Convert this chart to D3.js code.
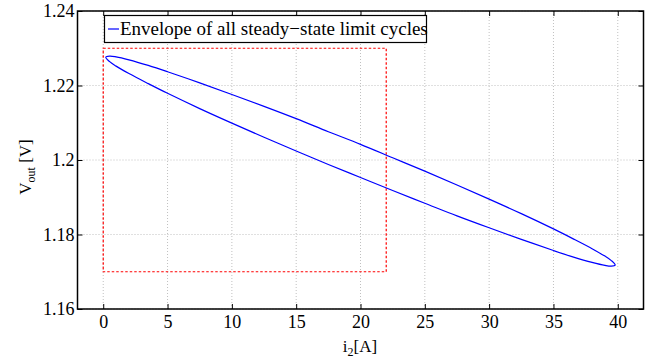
<!DOCTYPE html>
<html><head><meta charset="utf-8">
<script src="https://cdn.jsdelivr.net/npm/d3@7"></script>
<style>
html,body{margin:0;padding:0;background:#fff;}
</style></head>
<body><svg id="c" width="662" height="362"></svg>
<script>
// Data
const xTicks = [0,5,10,15,20,25,30,35,40];
const yTicks = [1.16,1.18,1.2,1.22,1.24];
const yTickLabels = ["1.16","1.18","1.2","1.22","1.24"];
const xDomain = [-2,42];
const yDomain = [1.16,1.24];
// Upper branch of envelope (i2 [A], Vout [V]), left tip -> right tip
const upperI = [0.2,0.5,1,2,3.5,5,7.5,10,12.5,15,17.5,20,22.5,25,27.5,30,32.5,35,36.5,38,39,39.5,39.8];
const upperV = [1.2276,1.2279,1.2277,1.2269,1.2254,1.2237,1.2207,1.2176,1.2144,1.2111,1.2076,1.2042,1.2006,1.1970,1.1933,1.1895,1.1856,1.1815,1.1789,1.1762,1.1742,1.1730,1.1718];
// Lower branch, right tip -> left tip
const lowerI = [39.5,39,38,36.5,35,32.5,30,27.5,25,22.5,20,17.5,15,12.5,10,7.5,5,3.5,2,1,0.5];
const lowerV = [1.1715,1.1717,1.1725,1.1740,1.1757,1.1787,1.1818,1.1850,1.1884,1.1918,1.1953,1.1988,1.2024,1.2061,1.2099,1.2138,1.2179,1.2205,1.2232,1.2252,1.2264];
// Dotted red region
const regionI = [0,22];
const regionV = [1.17,1.23];
const legendLabel = "Envelope of all steady\u2212state limit cycles";

const FONT = "'Liberation Serif','Times New Roman',Times,'DejaVu Serif',serif";
const svg = d3.select("#c");
const L=77.5, R=643.5, T=11, B=309;
const x = d3.scaleLinear().domain(xDomain).range([L,R]);
const y = d3.scaleLinear().domain(yDomain).range([B,T]);

// grid
const g = svg.append("g");
g.selectAll(".gx").data(xTicks).enter().append("line")
 .attr("x1",d=>x(d)).attr("x2",d=>x(d)).attr("y1",T).attr("y2",B)
 .attr("stroke","#c0c0c0").attr("stroke-width",1).attr("stroke-dasharray","1,2");
g.selectAll(".gy").data(yTicks).enter().append("line")
 .attr("y1",d=>y(d)).attr("y2",d=>y(d)).attr("x1",L).attr("x2",R)
 .attr("stroke","#c0c0c0").attr("stroke-width",1).attr("stroke-dasharray","1,2");

// red region
svg.append("rect")
 .attr("x",x(regionI[0])).attr("y",y(regionV[1]))
 .attr("width",x(regionI[1])-x(regionI[0])).attr("height",y(regionV[0])-y(regionV[1]))
 .attr("fill","none").attr("stroke","#ff0000").attr("stroke-width",1.2).attr("stroke-dasharray","2.5,2");

// ellipse
const pts = upperI.map((d,i)=>[d,upperV[i]]).concat(lowerI.map((d,i)=>[d,lowerV[i]]));
svg.append("path").datum(pts)
 .attr("d", d3.line().x(d=>x(d[0])).y(d=>y(d[1])).curve(d3.curveCatmullRomClosed.alpha(0.5)))
 .attr("fill","none").attr("stroke","#0000ff").attr("stroke-width",1.2);

// axes box
const tk=5;
svg.append("rect").attr("x",L).attr("y",T).attr("width",R-L).attr("height",B-T)
 .attr("fill","none").attr("stroke","#000").attr("stroke-width",1.5);
const axB = d3.axisBottom(x).tickValues(xTicks).tickSizeInner(-tk).tickSizeOuter(0).tickPadding(6);
svg.append("g").attr("transform",`translate(0,${B})`).call(axB);
const axT = d3.axisTop(x).tickValues(xTicks).tickSizeInner(-tk).tickSizeOuter(0).tickFormat("");
svg.append("g").attr("transform",`translate(0,${T})`).call(axT);
const axL = d3.axisLeft(y).tickValues(yTicks).tickSizeInner(-tk).tickSizeOuter(0).tickPadding(3)
 .tickFormat((d,i)=>yTickLabels[i]);
svg.append("g").attr("transform",`translate(${L},0)`).call(axL);
const axR = d3.axisRight(y).tickValues(yTicks).tickSizeInner(-tk).tickSizeOuter(0).tickFormat("");
svg.append("g").attr("transform",`translate(${R},0)`).call(axR);
svg.selectAll(".domain").remove();
svg.selectAll(".tick line").attr("stroke","#000").attr("stroke-width",1);
svg.selectAll(".tick text").style("font-family",FONT).style("font-size","18px").attr("fill","#000");

// legend
const lg = svg.append("g");
lg.append("rect").attr("x",104.5).attr("y",15.5).attr("width",322).attr("height",27)
 .attr("fill","#fff").attr("stroke","#000").attr("stroke-width",1.2);
lg.append("line").attr("x1",108).attr("x2",119).attr("y1",29).attr("y2",29)
 .attr("stroke","#0000ff").attr("stroke-width",1.2);
lg.append("text").attr("x",120).attr("y",35).style("font-family",FONT).style("font-size","19px").text(legendLabel);

// axis labels
const xl = svg.append("text").attr("x",360).attr("y",352).attr("text-anchor","middle").style("font-family",FONT).style("font-size","17px");
xl.append("tspan").text("i");
xl.append("tspan").attr("dy",4).style("font-size","12px").text("2");
xl.append("tspan").attr("dy",-4).text("[A]");
const yl = svg.append("text").attr("transform","translate(31,167) rotate(-90)").attr("text-anchor","middle").style("font-family",FONT).style("font-size","17px");
yl.append("tspan").text("V");
yl.append("tspan").attr("dy",4).style("font-size","12px").text("out");
yl.append("tspan").attr("dy",-4).text(" [V]");
</script></body></html>
